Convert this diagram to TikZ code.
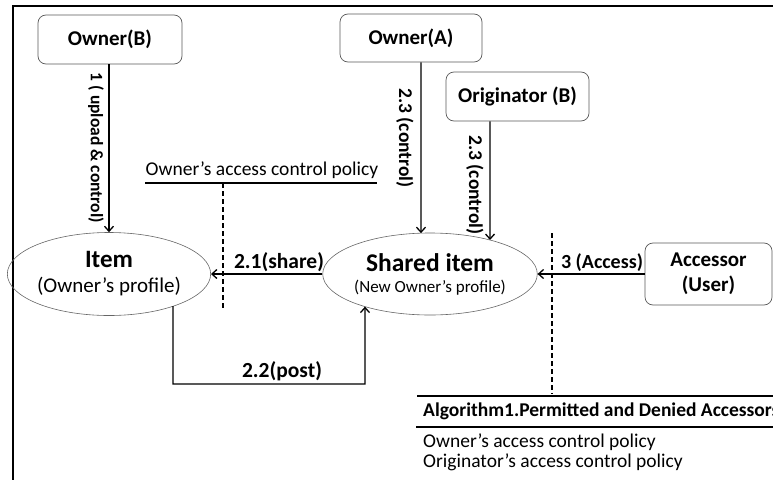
\documentclass[tikz,border=0pt]{standalone}
\usepackage{fontspec}
\setmainfont{Carlito}
\usetikzlibrary{arrows.meta,shapes.geometric,intersections,calc}
\begin{document}
\begin{tikzpicture}[x=1pt,y=-1pt,
  box/.style={draw=black!65, line width=0.7pt, rounded corners=8pt, fill=white, inner sep=0pt, align=center, font=\fontsize{21}{25}\selectfont\bfseries},
  ell/.style={draw=black!60, line width=0.6pt, ellipse, inner sep=0pt, align=center},
  arr/.style={line width=1.3pt, -{Straight Barb[length=5pt,width=9pt,line width=1.3pt]}},
  lab/.style={font=\fontsize{21.5}{24}\selectfont\bfseries, inner sep=0pt},
  vlab/.style={font=\fontsize{19.5}{24}\selectfont\bfseries, inner sep=0pt, rotate=-90},
  txt/.style={font=\fontsize{19.5}{23}\selectfont, inner sep=0pt},
  dsh/.style={line width=1.3pt, dash pattern=on 5pt off 3pt},
  rule/.style={line width=1.5pt}]
\useasboundingbox (0,0) rectangle (773,479);
% frame
\draw[line width=2pt] (13,480) -- (13,6) -- (780,6);
% boxes
\node[box, minimum width=144pt, minimum height=49pt] (ownB) at (110,39.5) {Owner(B)};
\node[box, minimum width=142pt, minimum height=48pt] (ownA) at (411,38) {Owner(A)};
\node[box, minimum width=143pt, minimum height=49pt] (orig) at (517.5,96.5) {Originator (B)};
\node[box, minimum width=127pt, minimum height=62pt] (acc) at (708.5,274) {Accessor\\(User)};
% ellipses
\node[ell, minimum width=184pt, minimum height=83pt, name path=itE, font=\fontsize{21}{25}\selectfont] (item) at (109,274)
  {{\fontsize{25}{28}\selectfont\bfseries Item}\\(Owner’s profile)};
\node[ell, minimum width=186pt, minimum height=82pt, name path=shE, font=\fontsize{17}{21}\selectfont] (shared) at (430,274)
  {{\fontsize{25.5}{28}\selectfont\bfseries Shared item}\\(New Owner’s profile)};
% arrow 1
\draw[arr] (ownB.south -| item.north) -- (item.north);
\node[vlab, font=\fontsize{17.5}{24}\selectfont\bfseries] (l1) at (96,148) {1 ( upload \& control)};
% arrow owner A
\path[name path=vA] ([xshift=10pt]ownA.south) -- ++(0,250);
\draw[arr, name intersections={of=vA and shE}] ([xshift=10pt]ownA.south) -- (intersection-1);
\node[vlab] (l2) at (405,138) {2.3 (control)};
% arrow originator
\path[name path=vO] ([xshift=-27.5pt]orig.south) -- ++(0,200);
\draw[arr, name intersections={of=vO and shE}] ([xshift=-27.5pt]orig.south) -- (intersection-1);
\node[vlab] (l3) at (475,185) {2.3 (control)};
% share
\draw[arr] (shared.west) -- (item.east);
\node[lab] (l4) at (279,262) {2.1(share)};
% post
\coordinate (pc1) at (173,384);
\coordinate (pc2) at (365,384);
\path[name path=vP1] (173,280) -- (pc1);
\path[name path=vP2] (pc2) -- (365,280);
\path[name intersections={of=vP1 and itE, name=a}];
\path[name intersections={of=vP2 and shE, name=b}];
\draw[arr] (a-1) -- (pc1) -- (pc2) -- (b-1);
\node[lab] (l5) at (282,371) {2.2(post)};
% access
\draw[arr] (acc.west) -- (shared.east);
\node[lab, font=\fontsize{20}{24}\selectfont\bfseries] (l6) at (602,263) {3 (Access)};
% owner's policy
\node[txt] (pol) at (262,170) {Owner’s access control policy};
\coordinate (r1a) at (145,183);
\coordinate (r1b) at (377,183);
\draw[rule] (r1a) -- (r1b);
\coordinate (d1a) at (223,183);
\coordinate (d1b) at (223,308);
\draw[dsh] (d1a) -- (d1b);
% algorithm
\coordinate (d2a) at (552,233);
\coordinate (d2b) at (552,394);
\draw[dsh] (d2a) -- (d2b);
\coordinate (r2a) at (417,396);
\coordinate (r2b) at (780,396);
\draw[rule] (r2a) -- (r2b);
\node[txt, font=\fontsize{19.5}{23}\selectfont\bfseries, anchor=west] (alg) at (423,411) {Algorithm1.Permitted and Denied Accessors};
\coordinate (r3a) at (416,427);
\coordinate (r3b) at (780,427);
\draw[rule] (r3a) -- (r3b);
\node[txt, anchor=west] (p1) at (423,442) {Owner’s access control policy};
\node[txt, anchor=west] (p2) at (423,462) {Originator’s access control policy};
\end{tikzpicture}
\end{document}
